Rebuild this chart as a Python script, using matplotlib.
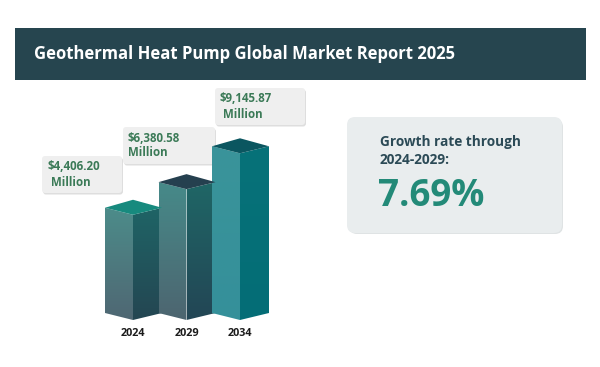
import matplotlib
matplotlib.use("Agg")
import matplotlib.pyplot as plt
import numpy as np
from matplotlib.patches import Polygon, FancyBboxPatch, Rectangle
from matplotlib.colors import to_rgb

# ---------------- data ----------------
years = ["2024", "2029", "2034"]
values = [4406.20, 6380.58, 9145.87]
unit_label = "Million"
title = "Geothermal Heat Pump Global Market Report 2025"
growth_label = "Growth rate through\n2024-2029:"
growth_value = "7.69%"

# ---------------- styles ----------------
FONT = ["Open Sans", "DejaVu Sans"]
face_left = [("#4c8c8a", "#4f6773"), ("#468a89", "#4d6570"), ("#3a949a", "#35909a")]
face_right = [("#1f6466", "#244652"), ("#1f6666", "#234655"), ("#077279", "#046d76")]
face_top = ["#178a7e", "#25404f", "#0b5660"]
label_boxes = [(42, 156, 80, 37), (123, 127, 92, 37), (215, 88, 90, 37)]
label_text_pos = [((48, 167), (51, 183)), ((128, 138), (128, 153)), ((220, 99), (223, 114))]

W, H = 600, 367
fig = plt.figure(figsize=(6, 3.67), dpi=100)
fig.patch.set_facecolor("white")

bg = fig.add_axes([0, 0, 1, 1])
bg.set_xlim(0, W)
bg.set_ylim(H, 0)
bg.axis("off")

# title banner
bg.add_patch(Rectangle((15, 28), 571, 52, fc="#26454f", ec="none"))
bg.text(34, 54, title, color="white", fontsize=12, fontweight="bold",
        family=FONT, va="center", ha="left")

# growth box
bg.add_patch(FancyBboxPatch((349, 119), 214, 115, boxstyle="round,pad=0,rounding_size=8",
                            fc="#dfe3e4", ec="none"))
bg.add_patch(FancyBboxPatch((347, 117), 215, 116, boxstyle="round,pad=0,rounding_size=8",
                            fc="#e9edee", ec="none"))
bg.text(380, 151, growth_label, color="#2b4a56", fontsize=9.8, fontweight="bold",
        family=FONT, va="center", ha="left", linespacing=1.35)
bg.text(378, 196, growth_value, color="#238a78", fontsize=26.5, fontweight="bold",
        family=FONT, va="center", ha="left")

# value label boxes
for (x, y, w, h), (p1, p2), v in zip(label_boxes, label_text_pos, values):
    bg.add_patch(FancyBboxPatch((x + 1, y + 1.5), w, h, boxstyle="round,pad=0,rounding_size=3",
                                fc="#dedede", ec="none"))
    bg.add_patch(FancyBboxPatch((x, y), w, h, boxstyle="round,pad=0,rounding_size=3",
                                fc="#efefef", ec="none"))
    bg.text(p1[0], p1[1], f"${v:,.2f}", color="#3b7a57", fontsize=8.3, fontweight="bold",
            family=FONT, va="center", ha="left")
    bg.text(p2[0], p2[1], unit_label, color="#3b7a57", fontsize=8.3, fontweight="bold",
            family=FONT, va="center", ha="left")

# ---------------- bars axes ----------------
PXX = 53.5      # pixels per category
PXY = 0.01297   # pixels per value unit
ZERO_PX = 271.9
ax = fig.add_axes([60 / W, (H - 330) / H, 240 / W, 250 / H])
ax.patch.set_alpha(0)
ax.axis("off")
xlim = (-73 / PXX, 167 / PXX)
ylim = ((ZERO_PX - 330) / PXY, (ZERO_PX - 80) / PXY)
base = (ZERO_PX - 320) / PXY

hl, hr = 28 / PXX, 29 / PXX
side = 7 / PXY
back = 15 / PXY


def grad_face(poly_pts, c_top, c_bot, z):
    poly = Polygon(poly_pts, closed=True, fc="none", ec="none")
    ax.add_patch(poly)
    xs = [p[0] for p in poly_pts]
    ys = [p[1] for p in poly_pts]
    t = np.linspace(0, 1, 64)[:, None]
    a, b = np.array(to_rgb(c_top)), np.array(to_rgb(c_bot))
    img = (a[None, :] * (1 - t) + b[None, :] * t)[:, None, :]
    img = np.repeat(img, 2, axis=1)
    im = ax.imshow(img, extent=[min(xs), max(xs), min(ys), max(ys)], origin="upper",
                   aspect="auto", zorder=z, interpolation="bilinear")
    im.set_clip_path(poly)


for i, (yr, v) in enumerate(zip(years, values)):
    L, M, R = i - hl, i, i + hr
    left = [(L, v + side), (M, v), (M, base), (L, base + side)]
    right = [(M, v), (R, v + side), (R, base + side), (M, base)]
    top = [(L, v + side), (M, v + back), (R, v + side), (M, v)]
    grad_face(left, face_left[i][0], face_left[i][1], 2)
    grad_face(right, face_right[i][0], face_right[i][1], 2)
    ax.add_patch(Polygon(top, closed=True, fc=face_top[i], ec="none", zorder=3))
    ax.text(i, base - 13 / PXY, yr, ha="center", va="center", fontsize=7.8,
            fontweight="bold", color="#1c1c1c", family=FONT)

ax.set_xlim(*xlim)
ax.set_ylim(*ylim)

fig.savefig("out.png", dpi=100, facecolor="white")
